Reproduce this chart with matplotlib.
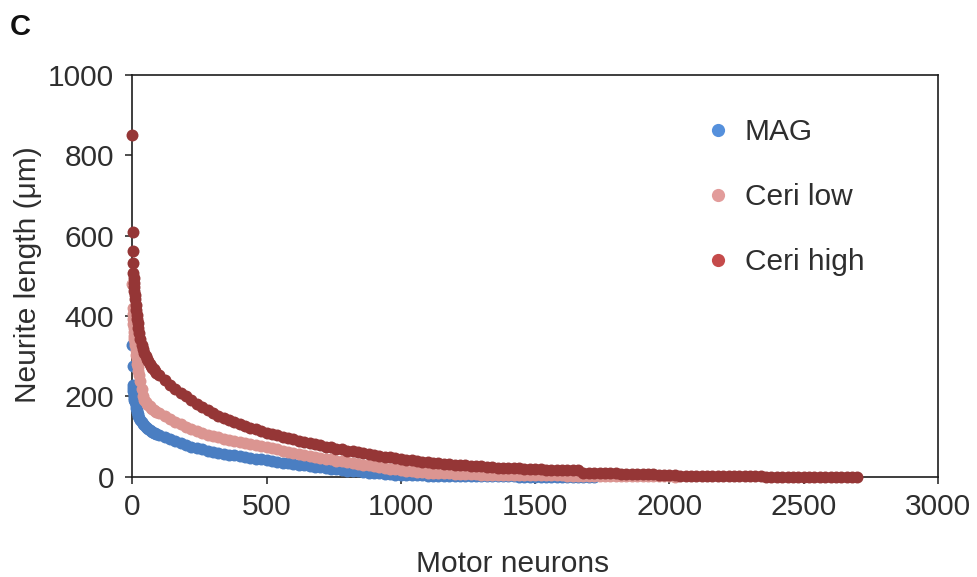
import matplotlib
matplotlib.use("Agg")
import matplotlib.pyplot as plt
from matplotlib.lines import Line2D

plt.rcParams['font.family'] = ['Liberation Sans', 'DejaVu Sans']

# Neurons ranked by neurite length (longest first); values in µm.
head_ranks = [0, 1, 2, 3, 4, 5, 6, 7, 8, 9, 10, 12, 14, 16, 18, 20, 23, 26, 30,
              35, 40, 45, 50, 55, 60, 65, 70, 75, 80, 85, 90]

mag_head = [329, 275, 228, 220, 213, 207, 202, 197, 192, 188,
            185, 178, 172, 166, 161, 157, 152, 147, 142, 137,
            132, 128, 124, 121, 118, 116, 114, 112, 110, 108, 107]
mag_tail_ranks = list(range(100, 1721, 20))
mag_tail = [105, 99, 93, 88, 83, 78, 75, 71, 68, 65,
            62, 60, 57, 55, 53, 51, 49, 47, 45, 43,
            41, 39, 37, 35, 33, 31, 29, 28, 26, 24,
            23, 21, 20, 18, 17, 15, 14, 13, 11, 10,
            9, 8, 7, 6, 5, 4, 4, 3, 3, 3,
            2, 2, 2, 2, 2, 1, 1, 1, 1, 1,
            1, 1, 1, 1, 1, 1, 1, 0, 0, 0,
            0, 0, 0, 0, 0, 0, 0, 0, 0, 0,
            0, 0]

low_head = [480, 421, 405, 392, 380, 370, 360, 350, 342, 335,
            328, 316, 304, 292, 281, 272, 262, 253, 238, 218,
            200, 192, 186, 182, 178, 175, 172, 169, 166, 163, 161]
low_tail_ranks = list(range(100, 2021, 20))
low_tail = [158, 151, 144, 137, 130, 124, 118, 113, 108, 104,
            101, 98, 95, 92, 89, 86, 84, 81, 78, 76,
            73, 71, 68, 65, 62, 59, 57, 55, 52, 50,
            47, 45, 43, 40, 38, 36, 34, 32, 30, 28,
            26, 24, 22, 20, 18, 16, 15, 13, 12, 11,
            10, 9, 9, 8, 8, 7, 7, 6, 6, 6,
            5, 5, 5, 5, 4, 4, 4, 4, 4, 3,
            3, 3, 3, 3, 3, 3, 2, 2, 2, 2,
            2, 2, 2, 2, 2, 1, 1, 1, 1, 1,
            1, 1, 1, 1, 1, 1, 0]

high_head = [850, 610, 562, 533, 508, 495, 483, 472, 462, 452,
             443, 428, 415, 403, 393, 383, 370, 358, 343, 328,
             317, 308, 300, 293, 287, 281, 276, 271, 267, 262, 257]
high_tail_ranks = list(range(100, 2701, 20))
high_tail = [252, 240, 229, 219, 209, 200, 190, 181, 173, 166,
             158, 152, 146, 141, 136, 131, 126, 122, 118, 114,
             110, 106, 103, 100, 96, 93, 90, 87, 84, 81,
             78, 75, 73, 70, 68, 65, 63, 61, 59, 56,
             54, 52, 50, 48, 46, 44, 42, 41, 39, 37,
             36, 35, 33, 32, 31, 30, 29, 28, 27, 26,
             26, 25, 24, 22, 22, 21, 21, 21, 20, 20,
             18, 18, 17, 17, 17, 17, 16, 16, 16, 10,
             9, 9, 9, 8, 8, 8, 7, 7, 7, 6,
             6, 6, 6, 5, 5, 5, 5, 1, 1, 1,
             1, 1, 1, 1, 1, 1, 1, 1, 1, 1,
             1, 1, 1, 0, 0, 0, 0, 0, 0, 0,
             0, 0, 0, 0, 0, 0, 0, 0, 0, 0,
             0]

series_names = ["MAG", "Ceri low", "Ceri high"]
x_ticks = [0, 500, 1000, 1500, 2000, 2500, 3000]
y_ticks = [0, 200, 400, 600, 800, 1000]

series = [
    (head_ranks + mag_tail_ranks, mag_head + mag_tail, "#4a7ec2", "#5590dc"),
    (head_ranks + low_tail_ranks, low_head + low_tail, "#db9591", "#e29c9b"),
    (head_ranks + high_tail_ranks, high_head + high_tail, "#953636", "#c54b4b"),
]

text_color = "#2e2e2e"
fs = 21.5

fig = plt.figure(figsize=(9.78, 5.77), dpi=100)
ax = fig.add_axes([0.13528, 0.17383, 0.82382, 0.69619])

handles = []
for (xs, ys, col, leg_col), name in zip(series, series_names):
    ax.plot(xs, ys, ls="none", marker="o", ms=8.6, mew=0, color=col,
            clip_on=False, zorder=3)
    handles.append(Line2D([], [], ls="none", marker="o", ms=9.5, mew=0,
                          color=leg_col))

ax.set_xlim(0, 3000)
ax.set_ylim(0, 1000)
ax.set_xticks(x_ticks)
ax.set_yticks(y_ticks)

for sp in ax.spines.values():
    sp.set_linewidth(1.2)
    sp.set_color("#1e1e1e")

ax.tick_params(axis="both", direction="out", length=5, width=1.1,
               color="#1e1e1e", labelsize=fs, labelcolor=text_color)
ax.tick_params(axis="y", pad=8)
ax.tick_params(axis="x", pad=7)

ax.legend(handles, series_names, loc="upper left",
          bbox_to_anchor=(703 / 978, 1 - 118 / 577),
          bbox_transform=fig.transFigure, frameon=False, fontsize=fs,
          handlelength=1.0, handletextpad=0.4, labelspacing=1.24,
          borderpad=0, borderaxespad=0, labelcolor=text_color)

fig.text(28 / 978, 1 - 275 / 577, "Neurite length (μm)", rotation=90,
         ha="center", va="center", fontsize=fs, color=text_color)
fig.text(513 / 978, 1 - 572 / 577, "Motor neurons", ha="center",
         va="baseline", fontsize=fs, color=text_color)
fig.text(10 / 978, 1 - 35 / 577, "C", ha="left", va="baseline",
         fontsize=21, fontweight="bold", color="#111111")

fig.savefig("out.png", dpi=100, facecolor="white")
